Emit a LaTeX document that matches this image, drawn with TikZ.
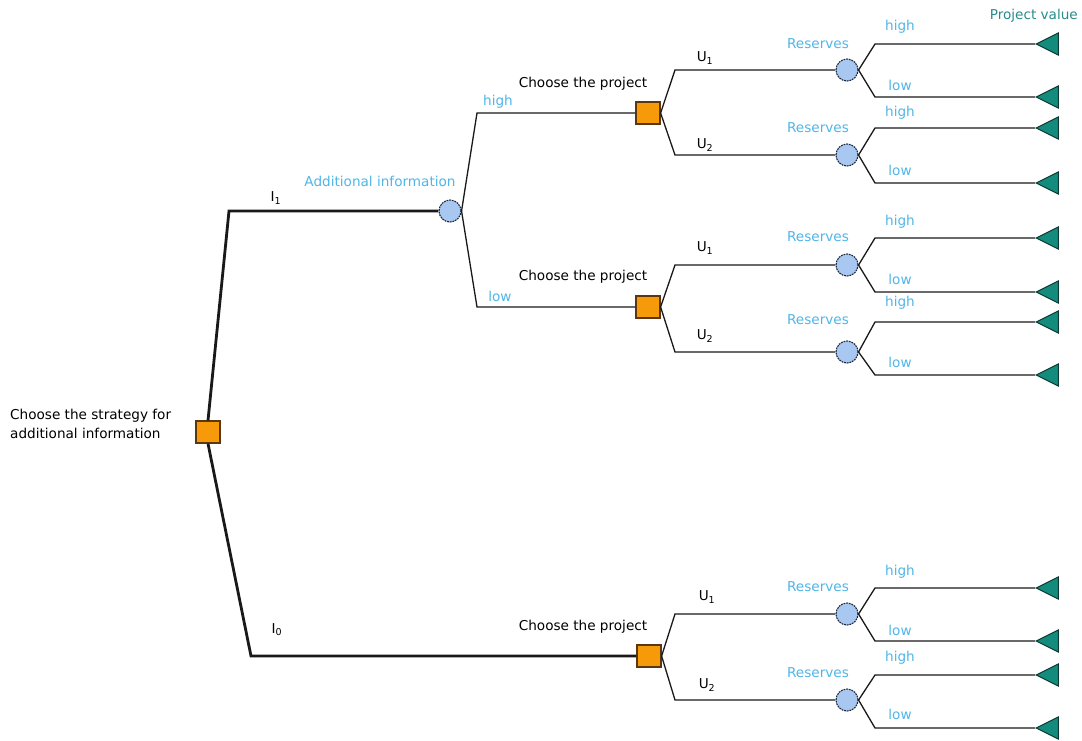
\documentclass[tikz,border=0pt]{standalone}
\usepackage{fontspec}
\setmainfont{DejaVu Sans}
\usetikzlibrary{shapes.geometric}
\definecolor{lblue}{RGB}{80,182,232}
\definecolor{pvteal}{RGB}{40,140,140}
\definecolor{trifill}{RGB}{20,140,125}
\definecolor{triedge}{RGB}{15,55,50}
\definecolor{sqfill}{RGB}{247,154,10}
\definecolor{sqedge}{RGB}{90,55,15}
\definecolor{cfill}{RGB}{168,200,242}
\definecolor{cedge}{RGB}{30,40,60}
\definecolor{linecol}{RGB}{25,25,25}
\begin{document}
\begin{tikzpicture}[x=1pt,y=-1pt,
  font=\fontsize{13.6}{19}\selectfont,
  dec/.style={draw=sqedge,fill=sqfill,line width=1.2pt,minimum width=24pt,minimum height=22pt,inner sep=0pt},
  chance/.style={circle,draw=cedge,fill=cfill,dash pattern=on 1.8pt off 0.9pt,line width=1.1pt,minimum size=22pt,inner sep=0pt},
  term/.style={isosceles triangle,isosceles triangle stretches,shape border rotate=180,minimum width=22pt,minimum height=22pt,inner sep=0pt,fill=trifill,draw=triedge,line width=1pt},
  mainline/.style={line width=2.8pt,draw=linecol},
  branch/.style={line width=1.3pt,draw=linecol},
  lab/.style={text=black,inner sep=0pt},
  blab/.style={text=lblue,inner sep=0pt}]
\fill[white] (0,0) rectangle (1082,740);
\useasboundingbox (0,0) rectangle (1082,740);

% root decision
\node[dec] (R) at (208,432) {};
\node[lab,anchor=west,align=left] (Rlab) at (10,424) {Choose the strategy for\\additional information};

% additional information chance node
\node[chance] (AI) at (450,211) {};
\node[blab] (AIlab) at (380,181) {Additional information};

% project decisions
\node[dec] (P1) at (648,113) {};
\node[dec] (P2) at (648,307) {};
\node[dec] (P3) at (649,656) {};
\node[lab] (P1lab) at (583,84) {Choose the project};
\node[lab] (P2lab) at (583,277) {Choose the project};
\node[lab] (P3lab) at (583,627) {Choose the project};

% main strategy branches
\coordinate (c1) at (229,211);
\coordinate (c0) at (251,656);
\draw[mainline] (R.north) -- (c1) -- (AI);
\draw[mainline] (R.south) -- (c0) -- (P3);
\node[lab] (I1) at (276,198) {I\textsubscript{1}};
\node[lab] (I0) at (277,630) {I\textsubscript{0}};

% information outcomes
\coordinate (ch) at (477,113);
\coordinate (cl) at (477,307);
\draw[branch] (AI.east) -- (ch) -- (P1);
\draw[branch] (AI.east) -- (cl) -- (P2);
\node[blab] (AIh) at (498,102) {high};
\node[blab] (AIl) at (500,296) {low};

% reserves chance nodes and terminals
\foreach \n/\cy/\yh/\yl/\rl/\hl/\ll in {A/70/44/97/44/27/85, B/155/128/183/128/113/170, C/265/238/292/237/222/279, D/352/322/375/320/303/362, E/614/588/641/587/572/630, F/700/675/728/673/658/714}{
  \node[chance] (\n) at (847,\cy) {};
  \node[term,anchor=apex] (\n-h) at (1035,\yh) {};
  \node[term,anchor=apex] (\n-l) at (1035,\yl) {};
  \coordinate (\n-hc) at (875,\yh);
  \coordinate (\n-lc) at (875,\yl);
  \draw[branch] (\n.east) -- (\n-hc) -- (\n-h.apex);
  \draw[branch] (\n.east) -- (\n-lc) -- (\n-l.apex);
  \node[blab] (\n-rl) at (818,\rl) {Reserves};
  \node[blab] (\n-hl) at (900,\hl) {high};
  \node[blab] (\n-ll) at (900,\ll) {low};
}

% project choices
\foreach \p/\a/\b/\ya/\yb/\ua/\ub/\ux in {P1/A/B/70/155/58/145/705, P2/C/D/265/352/248/336/705, P3/E/F/614/700/597/685/707}{
  \coordinate (\p-ca) at (675,\ya);
  \coordinate (\p-cb) at (675,\yb);
  \draw[branch] (\p.east) -- (\p-ca) -- (\a);
  \draw[branch] (\p.east) -- (\p-cb) -- (\b);
  \node[lab] (\p-u1) at (\ux,\ua) {U\textsubscript{1}};
  \node[lab] (\p-u2) at (\ux,\ub) {U\textsubscript{2}};
}

\node[text=pvteal,anchor=east,inner sep=0pt] (PV) at (1078,16) {Project value};
\end{tikzpicture}
\end{document}
